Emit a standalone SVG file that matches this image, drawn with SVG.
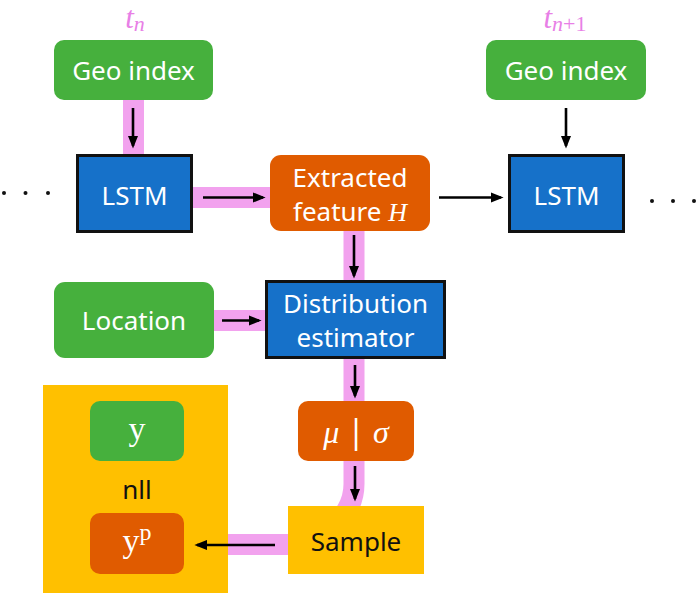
<svg xmlns="http://www.w3.org/2000/svg" width="699" height="595" viewBox="0 0 699 595">
<defs>
<marker id="ah" markerWidth="5" markerHeight="4" refX="4" refY="2" orient="auto" markerUnits="strokeWidth">
<path d="M0,0 L5,2 L0,4 Z" fill="#000"/>
</marker>
<style>
.band{stroke:#F2A2EE;stroke-width:21;fill:none}
.arr{stroke:#000;stroke-width:2.6;fill:none;marker-end:url(#ah)}
.green{fill:#46B03D}
.blue{fill:#1671C9;stroke:#111;stroke-width:3}
.orange{fill:#E05B00}
.yellow{fill:#FFC000}
.wt{font-family:"Noto Sans","Open Sans",sans-serif;font-size:26px;fill:#fff;text-anchor:middle}
.bt{font-family:"Noto Sans","Open Sans",sans-serif;font-size:26px;fill:#111;text-anchor:middle}
.math{font-family:"Liberation Serif","DejaVu Serif",serif;font-style:italic}
.rom{font-family:"Liberation Serif","DejaVu Serif",serif}
.pk{fill:#E87FE6;font-size:31px}
.dot{fill:#111}
</style>
</defs>
<g id="nllbox"><rect class="yellow" x="43" y="385" width="185" height="208"/></g>
<g id="connectors">
<path class="band" d="M133.5,100 V154"/>
<path class="band" d="M192,197.5 H270"/>
<path class="band" d="M354,231 V280"/>
<path class="band" d="M214,320.5 H265"/>
<path class="band" d="M354,358 V401"/>
<path class="band" d="M354,461 V484 Q354,498 347,510 L344,520"/>
<path class="band" d="M228,544.5 H288"/>
<path class="arr" d="M133,108 V146"/>
<path class="arr" d="M203,197.5 H263"/>
<path class="arr" d="M566,108 V146"/>
<path class="arr" d="M439,197.5 H501"/>
<path class="arr" d="M354,235 V276"/>
<path class="arr" d="M222,320.5 H259"/>
<path class="arr" d="M355,365 V396"/>
<path class="arr" d="M355,466 V499"/>
<path class="arr" d="M275,545 H197"/>
</g>
<g id="tn"><text class="math pk" x="135" y="28" text-anchor="middle">t<tspan style="font-size:22px" dy="3">n</tspan></text></g>
<g id="tn1"><text class="math pk" x="565" y="28" text-anchor="middle">t<tspan style="font-size:22px" dy="3">n</tspan><tspan style="font-size:22px;font-style:normal">+1</tspan></text></g>
<g id="geo1"><rect class="green" x="54" y="40" width="159" height="60" rx="10"/><text class="wt" x="133.5" y="80">Geo index</text></g>
<g id="geo2"><rect class="green" x="486" y="40" width="160" height="60" rx="10"/><text class="wt" x="566" y="80">Geo index</text></g>
<g id="lstm1"><rect class="blue" x="77.5" y="155.5" width="114" height="76"/><text class="wt" x="134.5" y="205">LSTM</text></g>
<g id="lstm2"><rect class="blue" x="509.5" y="155.5" width="114" height="76"/><text class="wt" x="566.5" y="205">LSTM</text></g>
<g id="dotsL"><circle class="dot" cx="4" cy="193" r="2"/><circle class="dot" cx="25.5" cy="193" r="2"/><circle class="dot" cx="48" cy="193" r="2"/></g>
<g id="dotsR"><circle class="dot" cx="652" cy="201" r="2"/><circle class="dot" cx="673" cy="201" r="2"/><circle class="dot" cx="694" cy="201" r="2"/></g>
<g id="extracted"><rect class="orange" x="270" y="155" width="160" height="76" rx="11"/><text class="wt" x="350" y="187">Extracted</text><text class="wt" x="350" y="221">feature <tspan class="math">H</tspan></text></g>
<g id="location"><rect class="green" x="54" y="282" width="160" height="76" rx="11"/><text class="wt" x="134" y="330">Location</text></g>
<g id="distribution"><rect class="blue" x="266.5" y="281.5" width="178" height="76"/><text class="wt" x="355.5" y="313">Distribution</text><text class="wt" x="355.5" y="347">estimator</text></g>
<g id="musigma"><rect class="orange" x="298" y="401" width="116" height="60" rx="10"/><text class="wt math" x="356" y="443" style="font-size:32px">μ  <tspan font-style="normal" font-family="Noto Sans, sans-serif">|</tspan>  σ</text></g>
<g id="sample"><rect class="yellow" x="288" y="506" width="136" height="68"/><text class="bt" x="356" y="551">Sample</text></g>
<g id="ybox"><rect class="green" x="90" y="401" width="94" height="60" rx="10"/><text class="wt rom" x="137" y="440" style="font-size:34px">y</text></g>
<g id="nll"><text class="bt" x="137" y="499">nll</text></g>
<g id="ypbox"><rect class="orange" x="90" y="513" width="94" height="61" rx="10"/><text class="wt rom" x="137" y="552" style="font-size:34px">y<tspan style="font-size:24px" dy="-12">p</tspan></text></g>
</svg>
